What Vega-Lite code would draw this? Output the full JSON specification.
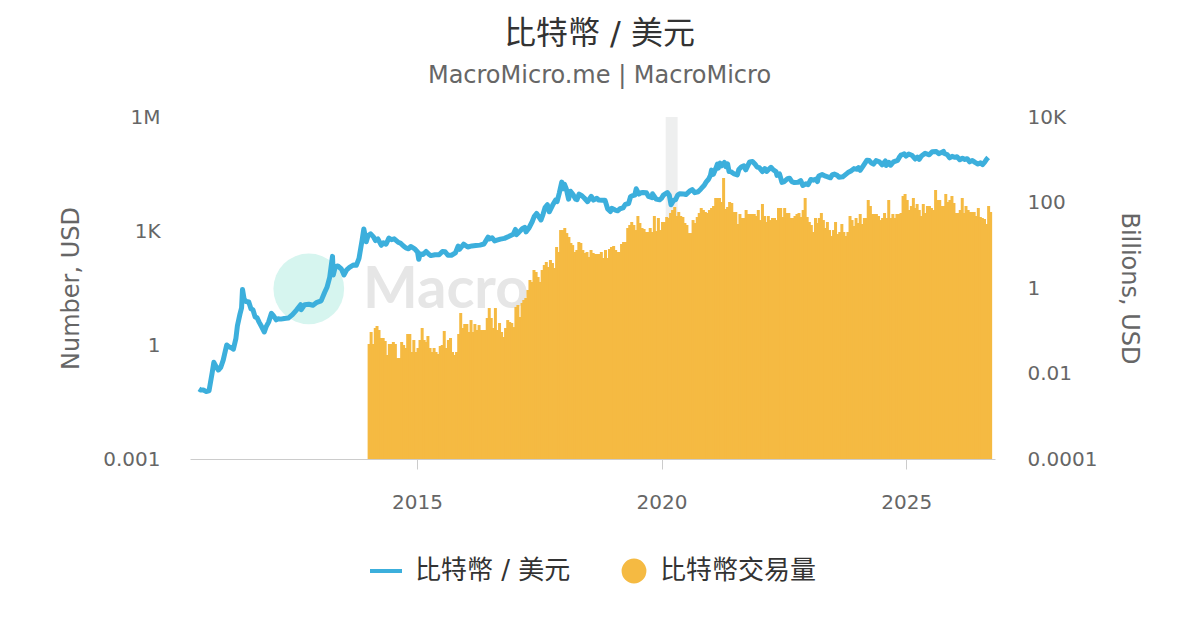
{
  "$schema": "https://vega.github.io/schema/vega-lite/v6.json",
  "width": 805,
  "height": 342,
  "autosize": {"type": "none"},
  "padding": {"left": 190, "top": 117, "right": 205, "bottom": 171},
  "title": {
    "text": "比特幣 / 美元",
    "subtitle": "MacroMicro.me | MacroMicro",
    "anchor": "middle",
    "frame": "group",
    "dx": 7,
    "offset": 18,
    "fontSize": 32,
    "fontWeight": "normal",
    "color": "#333333",
    "subtitleFontSize": 24,
    "subtitleColor": "#666666",
    "subtitlePadding": 13
  },
  "datasets": {
    "volume": [
      {"d":"2014-01-01","v":0.049},{"d":"2014-01-16","v":0.0935},{"d":"2014-02-01","v":0.049},{"d":"2014-02-16","v":0.116},{"d":"2014-03-01","v":0.129},{"d":"2014-03-16","v":0.104},{"d":"2014-04-01","v":0.0677},{"d":"2014-04-16","v":0.0677},{"d":"2014-05-01","v":0.0576},{"d":"2014-05-16","v":0.0271},{"d":"2014-06-01","v":0.049},{"d":"2014-06-16","v":0.049},{"d":"2014-07-01","v":0.0546},{"d":"2014-07-16","v":0.049},{"d":"2014-08-01","v":0.023},{"d":"2014-08-16","v":0.023},{"d":"2014-09-01","v":0.0546},{"d":"2014-09-16","v":0.0464},{"d":"2014-10-01","v":0.0395},{"d":"2014-10-16","v":0.0839},{"d":"2014-11-01","v":0.0839},{"d":"2014-11-16","v":0.0318},{"d":"2014-12-01","v":0.0608},{"d":"2014-12-16","v":0.0318},
      {"d":"2015-01-01","v":0.0395},{"d":"2015-01-16","v":0.0608},{"d":"2015-02-01","v":0.116},{"d":"2015-02-16","v":0.0608},{"d":"2015-03-01","v":0.0546},{"d":"2015-03-16","v":0.0754},{"d":"2015-04-01","v":0.0395},{"d":"2015-04-16","v":0.0318},{"d":"2015-05-01","v":0.0395},{"d":"2015-05-16","v":0.0318},{"d":"2015-06-01","v":0.0286},{"d":"2015-06-16","v":0.044},{"d":"2015-07-01","v":0.0464},{"d":"2015-07-16","v":0.0987},{"d":"2015-08-01","v":0.0395},{"d":"2015-08-16","v":0.0608},{"d":"2015-09-01","v":0.0677},{"d":"2015-09-16","v":0.0318},{"d":"2015-10-01","v":0.0271},{"d":"2015-10-16","v":0.0318},{"d":"2015-11-01","v":0.0839},{"d":"2015-11-16","v":0.26},{"d":"2015-12-01","v":0.116},{"d":"2015-12-16","v":0.144},
      {"d":"2016-01-01","v":0.144},{"d":"2016-01-16","v":0.0935},{"d":"2016-02-01","v":0.178},{"d":"2016-02-16","v":0.0935},{"d":"2016-03-01","v":0.144},{"d":"2016-03-16","v":0.104},{"d":"2016-04-01","v":0.136},{"d":"2016-04-16","v":0.104},{"d":"2016-05-01","v":0.104},{"d":"2016-05-16","v":0.104},{"d":"2016-06-01","v":0.199},{"d":"2016-06-16","v":0.34},{"d":"2016-07-01","v":0.199},{"d":"2016-07-16","v":0.116},{"d":"2016-08-01","v":0.34},{"d":"2016-08-16","v":0.104},{"d":"2016-09-01","v":0.152},{"d":"2016-09-16","v":0.0935},{"d":"2016-10-01","v":0.0714},{"d":"2016-10-16","v":0.116},{"d":"2016-11-01","v":0.178},{"d":"2016-11-16","v":0.16},{"d":"2016-12-01","v":0.152},{"d":"2016-12-16","v":0.122},
      {"d":"2017-01-01","v":0.359},{"d":"2017-01-16","v":0.4},{"d":"2017-02-01","v":0.21},{"d":"2017-02-16","v":0.446},{"d":"2017-03-01","v":0.524},{"d":"2017-03-16","v":0.583},{"d":"2017-04-01","v":0.898},{"d":"2017-04-16","v":1.54},{"d":"2017-05-01","v":1.38},{"d":"2017-05-16","v":2.64},{"d":"2017-06-01","v":2.37},{"d":"2017-06-16","v":1.81},{"d":"2017-07-01","v":1.38},{"d":"2017-07-16","v":2.64},{"d":"2017-08-01","v":3.45},{"d":"2017-08-16","v":4.06},{"d":"2017-09-01","v":3.1},{"d":"2017-09-16","v":4.52},{"d":"2017-10-01","v":3.84},{"d":"2017-10-16","v":2.94},{"d":"2017-11-01","v":9.1},{"d":"2017-11-16","v":6.95},{"d":"2017-12-01","v":22.7},{"d":"2017-12-16","v":22.7},
      {"d":"2018-01-01","v":25.3},{"d":"2018-01-16","v":19.3},{"d":"2018-02-01","v":15.6},{"d":"2018-02-16","v":11.3},{"d":"2018-03-01","v":10.1},{"d":"2018-03-16","v":6.95},{"d":"2018-04-01","v":7.74},{"d":"2018-04-16","v":11.9},{"d":"2018-05-01","v":11.3},{"d":"2018-05-16","v":7.74},{"d":"2018-06-01","v":6.59},{"d":"2018-06-16","v":6.95},{"d":"2018-07-01","v":5.31},{"d":"2018-07-16","v":7.74},{"d":"2018-08-01","v":6.59},{"d":"2018-08-16","v":6.24},{"d":"2018-09-01","v":6.24},{"d":"2018-09-16","v":6.24},{"d":"2018-10-01","v":6.95},{"d":"2018-10-16","v":5.03},{"d":"2018-11-01","v":7.74},{"d":"2018-11-16","v":5.03},{"d":"2018-12-01","v":8.17},{"d":"2018-12-16","v":9.1},
      {"d":"2019-01-01","v":9.6},{"d":"2019-01-16","v":7.74},{"d":"2019-02-01","v":6.95},{"d":"2019-02-16","v":6.95},{"d":"2019-03-01","v":10.7},{"d":"2019-03-16","v":11.9},{"d":"2019-04-01","v":11.9},{"d":"2019-04-16","v":25.3},{"d":"2019-05-01","v":29.8},{"d":"2019-05-16","v":35},{"d":"2019-06-01","v":29.8},{"d":"2019-06-16","v":22.7},{"d":"2019-07-01","v":48.3},{"d":"2019-07-16","v":33.2},{"d":"2019-08-01","v":25.3},{"d":"2019-08-16","v":24},{"d":"2019-09-01","v":20.4},{"d":"2019-09-16","v":20.4},{"d":"2019-10-01","v":25.3},{"d":"2019-10-16","v":20.4},{"d":"2019-11-01","v":48.3},{"d":"2019-11-16","v":21.5},{"d":"2019-12-01","v":43.4},{"d":"2019-12-16","v":22.7},
      {"d":"2020-01-01","v":35},{"d":"2020-01-16","v":35},{"d":"2020-02-01","v":45.8},{"d":"2020-02-16","v":43.4},{"d":"2020-03-01","v":56.8},{"d":"2020-03-16","v":66.8},{"d":"2020-04-01","v":78.5},{"d":"2020-04-16","v":48.3},{"d":"2020-05-01","v":59.9},{"d":"2020-05-16","v":48.3},{"d":"2020-06-01","v":45.8},{"d":"2020-06-16","v":33.2},{"d":"2020-07-01","v":29.8},{"d":"2020-07-16","v":19.3},{"d":"2020-08-01","v":19.3},{"d":"2020-08-16","v":38.9},{"d":"2020-09-01","v":33.2},{"d":"2020-09-16","v":45.8},{"d":"2020-10-01","v":56.8},{"d":"2020-10-16","v":74.3},{"d":"2020-11-01","v":66.8},{"d":"2020-11-16","v":59.9},{"d":"2020-12-01","v":56.8},{"d":"2020-12-16","v":66.8},
      {"d":"2021-01-01","v":74.3},{"d":"2021-01-16","v":82.8},{"d":"2021-02-01","v":127},{"d":"2021-02-16","v":127},{"d":"2021-03-01","v":127},{"d":"2021-03-16","v":103},{"d":"2021-04-01","v":374},{"d":"2021-04-16","v":70.5},{"d":"2021-05-01","v":78.5},{"d":"2021-05-16","v":103},{"d":"2021-06-01","v":97.3},{"d":"2021-06-16","v":59.9},{"d":"2021-07-01","v":59.9},{"d":"2021-07-16","v":31.4},{"d":"2021-08-01","v":53.8},{"d":"2021-08-16","v":43.4},{"d":"2021-09-01","v":43.4},{"d":"2021-09-16","v":66.8},{"d":"2021-10-01","v":53.8},{"d":"2021-10-16","v":53.8},{"d":"2021-11-01","v":53.8},{"d":"2021-11-16","v":53.8},{"d":"2021-12-01","v":48.3},{"d":"2021-12-16","v":66.8},
      {"d":"2022-01-01","v":38.9},{"d":"2022-01-16","v":92.2},{"d":"2022-02-01","v":48.3},{"d":"2022-02-16","v":35},{"d":"2022-03-01","v":48.3},{"d":"2022-03-16","v":38.9},{"d":"2022-04-01","v":43.4},{"d":"2022-04-16","v":43.4},{"d":"2022-05-01","v":38.9},{"d":"2022-05-16","v":74.3},{"d":"2022-06-01","v":74.3},{"d":"2022-06-16","v":45.8},{"d":"2022-07-01","v":74.3},{"d":"2022-07-16","v":56.8},{"d":"2022-08-01","v":56.8},{"d":"2022-08-16","v":43.4},{"d":"2022-09-01","v":43.4},{"d":"2022-09-16","v":48.3},{"d":"2022-10-01","v":53.8},{"d":"2022-10-16","v":56.8},{"d":"2022-11-01","v":45.8},{"d":"2022-11-16","v":66.8},{"d":"2022-12-01","v":127},{"d":"2022-12-16","v":45.8},
      {"d":"2023-01-01","v":35},{"d":"2023-01-16","v":29.8},{"d":"2023-02-01","v":20.4},{"d":"2023-02-16","v":43.4},{"d":"2023-03-01","v":33.2},{"d":"2023-03-16","v":43.4},{"d":"2023-04-01","v":56.8},{"d":"2023-04-16","v":38.9},{"d":"2023-05-01","v":25.3},{"d":"2023-05-16","v":35},{"d":"2023-06-01","v":22.7},{"d":"2023-06-16","v":16.5},{"d":"2023-07-01","v":22.7},{"d":"2023-07-16","v":35},{"d":"2023-08-01","v":18.3},{"d":"2023-08-16","v":20.4},{"d":"2023-09-01","v":31.4},{"d":"2023-09-16","v":20.4},{"d":"2023-10-01","v":16.5},{"d":"2023-10-16","v":20.4},{"d":"2023-11-01","v":48.3},{"d":"2023-11-16","v":38.9},{"d":"2023-12-01","v":28.2},{"d":"2023-12-16","v":43.4},
      {"d":"2024-01-01","v":33.2},{"d":"2024-01-16","v":53.8},{"d":"2024-02-01","v":31.4},{"d":"2024-02-16","v":43.4},{"d":"2024-03-01","v":43.4},{"d":"2024-03-16","v":114},{"d":"2024-04-01","v":82.8},{"d":"2024-04-16","v":53.8},{"d":"2024-05-01","v":53.8},{"d":"2024-05-16","v":53.8},{"d":"2024-06-01","v":48.3},{"d":"2024-06-16","v":38.9},{"d":"2024-07-01","v":43.4},{"d":"2024-07-16","v":56.8},{"d":"2024-08-01","v":43.4},{"d":"2024-08-16","v":114},{"d":"2024-09-01","v":43.4},{"d":"2024-09-16","v":53.8},{"d":"2024-10-01","v":43.4},{"d":"2024-10-16","v":53.8},{"d":"2024-11-01","v":53.8},{"d":"2024-11-16","v":56.8},{"d":"2024-12-01","v":142},{"d":"2024-12-16","v":158},
      {"d":"2025-01-01","v":114},{"d":"2025-01-16","v":66.8},{"d":"2025-02-01","v":82.8},{"d":"2025-02-16","v":127},{"d":"2025-03-01","v":74.3},{"d":"2025-03-16","v":92.2},{"d":"2025-04-01","v":66.8},{"d":"2025-04-16","v":48.3},{"d":"2025-05-01","v":92.2},{"d":"2025-05-16","v":56.8},{"d":"2025-06-01","v":82.8},{"d":"2025-06-16","v":82.8},{"d":"2025-07-01","v":74.3},{"d":"2025-07-16","v":66.8},{"d":"2025-08-01","v":196},{"d":"2025-08-16","v":114},{"d":"2025-09-01","v":114},{"d":"2025-09-16","v":82.8},{"d":"2025-10-01","v":82.8},{"d":"2025-10-16","v":158},{"d":"2025-11-01","v":103},{"d":"2025-11-16","v":114},{"d":"2025-12-01","v":142},{"d":"2025-12-16","v":97.3},
      {"d":"2026-01-01","v":56.8},{"d":"2026-01-16","v":56.8},{"d":"2026-02-01","v":66.8},{"d":"2026-02-16","v":127},{"d":"2026-03-01","v":56.8},{"d":"2026-03-16","v":82.8},{"d":"2026-04-01","v":66.8},{"d":"2026-04-16","v":59.9},{"d":"2026-05-01","v":59.9},{"d":"2026-05-16","v":59.9},{"d":"2026-06-01","v":48.3},{"d":"2026-06-16","v":74.3},{"d":"2026-07-01","v":45.8},{"d":"2026-07-16","v":43.4},{"d":"2026-08-01","v":41.1},{"d":"2026-08-16","v":31.4},{"d":"2026-09-01","v":82.8},{"d":"2026-09-16","v":59.9}
    ],
    "price": [
      {"d":"2010-07-18","p":0.07},{"d":"2010-08-01","p":0.065},{"d":"2010-08-20","p":0.065},{"d":"2010-09-10","p":0.06},{"d":"2010-10-01","p":0.062},{"d":"2010-10-25","p":0.19},{"d":"2010-11-06","p":0.35},{"d":"2010-11-20","p":0.28},{"d":"2010-12-10","p":0.22},{"d":"2010-12-28","p":0.26},
      {"d":"2011-01-15","p":0.4},{"d":"2011-02-10","p":1.0},{"d":"2011-02-25","p":0.9},{"d":"2011-03-15","p":0.85},{"d":"2011-04-01","p":0.78},{"d":"2011-04-20","p":1.5},{"d":"2011-05-01","p":3.2},{"d":"2011-05-20","p":6.5},{"d":"2011-06-01","p":9.5},{"d":"2011-06-08","p":29},{"d":"2011-06-20","p":16},{"d":"2011-07-05","p":14},{"d":"2011-07-25","p":13.5},{"d":"2011-08-10","p":9},{"d":"2011-08-25","p":8.5},{"d":"2011-09-10","p":5.5},{"d":"2011-09-25","p":5.2},{"d":"2011-10-10","p":4.0},{"d":"2011-10-25","p":3.2},{"d":"2011-11-18","p":2.2},{"d":"2011-12-01","p":3.0},{"d":"2011-12-20","p":4.0},
      {"d":"2012-01-10","p":6.8},{"d":"2012-01-25","p":5.9},{"d":"2012-02-15","p":4.6},{"d":"2012-03-01","p":4.9},{"d":"2012-03-20","p":4.8},{"d":"2012-04-15","p":5.0},{"d":"2012-05-15","p":5.1},{"d":"2012-06-15","p":6.3},{"d":"2012-07-15","p":8.3},{"d":"2012-08-15","p":11.5},{"d":"2012-08-20","p":8.5},{"d":"2012-09-15","p":11.5},{"d":"2012-10-15","p":11.8},{"d":"2012-11-15","p":11.1},{"d":"2012-12-15","p":13.3},
      {"d":"2013-01-15","p":14.5},{"d":"2013-02-10","p":24},{"d":"2013-02-28","p":33},{"d":"2013-03-20","p":60},{"d":"2013-04-10","p":215},{"d":"2013-04-16","p":70},{"d":"2013-05-01","p":115},{"d":"2013-05-20","p":120},{"d":"2013-06-15","p":100},{"d":"2013-07-05","p":70},{"d":"2013-07-25","p":95},{"d":"2013-08-15","p":110},{"d":"2013-09-15","p":128},{"d":"2013-10-05","p":125},{"d":"2013-10-25","p":190},{"d":"2013-11-18","p":600},{"d":"2013-11-30","p":1130},{"d":"2013-12-18","p":520},{"d":"2013-12-31","p":750},
      {"d":"2014-01-20","p":840},{"d":"2014-02-10","p":700},{"d":"2014-02-25","p":560},{"d":"2014-03-15","p":620},{"d":"2014-04-10","p":420},{"d":"2014-04-25","p":490},{"d":"2014-05-15","p":450},{"d":"2014-06-05","p":650},{"d":"2014-06-25","p":590},{"d":"2014-07-15","p":620},{"d":"2014-08-15","p":500},{"d":"2014-08-30","p":480},{"d":"2014-09-20","p":410},{"d":"2014-10-10","p":360},{"d":"2014-10-30","p":340},{"d":"2014-11-15","p":390},{"d":"2014-12-15","p":340},
      {"d":"2015-01-05","p":280},{"d":"2015-01-14","p":180},{"d":"2015-01-25","p":250},{"d":"2015-02-15","p":240},{"d":"2015-03-10","p":290},{"d":"2015-03-31","p":245},{"d":"2015-04-15","p":225},{"d":"2015-05-15","p":237},{"d":"2015-06-15","p":238},{"d":"2015-07-10","p":290},{"d":"2015-07-30","p":285},{"d":"2015-08-20","p":230},{"d":"2015-09-15","p":230},{"d":"2015-10-15","p":265},{"d":"2015-11-04","p":400},{"d":"2015-11-15","p":330},{"d":"2015-12-15","p":450},
      {"d":"2016-01-15","p":380},{"d":"2016-02-15","p":405},{"d":"2016-03-15","p":415},{"d":"2016-04-15","p":425},{"d":"2016-05-15","p":455},{"d":"2016-06-15","p":690},{"d":"2016-06-25","p":620},{"d":"2016-07-15","p":665},{"d":"2016-08-03","p":550},{"d":"2016-08-20","p":575},{"d":"2016-09-15","p":610},{"d":"2016-10-15","p":640},{"d":"2016-11-15","p":715},{"d":"2016-12-20","p":820},
      {"d":"2017-01-05","p":1100},{"d":"2017-01-12","p":800},{"d":"2017-01-30","p":920},{"d":"2017-02-25","p":1150},{"d":"2017-03-15","p":1250},{"d":"2017-03-25","p":950},{"d":"2017-04-15","p":1180},{"d":"2017-05-10","p":1750},{"d":"2017-05-25","p":2400},{"d":"2017-06-12","p":2900},{"d":"2017-07-15","p":1950},{"d":"2017-07-30","p":2750},{"d":"2017-08-15","p":4200},{"d":"2017-09-01","p":4900},{"d":"2017-09-15","p":3200},{"d":"2017-10-10","p":4800},{"d":"2017-10-31","p":6450},{"d":"2017-11-12","p":5950},{"d":"2017-11-28","p":9800},{"d":"2017-12-17","p":19300},{"d":"2017-12-30","p":12900},
      {"d":"2018-01-06","p":17100},{"d":"2018-01-20","p":12800},{"d":"2018-02-06","p":6900},{"d":"2018-02-20","p":11100},{"d":"2018-03-10","p":9200},{"d":"2018-03-31","p":6900},{"d":"2018-04-10","p":6700},{"d":"2018-04-25","p":9400},{"d":"2018-05-15","p":8500},{"d":"2018-06-01","p":7500},{"d":"2018-06-28","p":5900},{"d":"2018-07-25","p":8200},{"d":"2018-08-10","p":6500},{"d":"2018-09-05","p":7300},{"d":"2018-09-20","p":6500},{"d":"2018-10-15","p":6400},{"d":"2018-11-05","p":6400},{"d":"2018-11-25","p":3800},{"d":"2018-12-15","p":3250},{"d":"2018-12-25","p":3950},
      {"d":"2019-01-20","p":3550},{"d":"2019-02-07","p":3400},{"d":"2019-02-25","p":3850},{"d":"2019-03-20","p":4050},{"d":"2019-04-05","p":5000},{"d":"2019-04-30","p":5300},{"d":"2019-05-15","p":8100},{"d":"2019-05-31","p":8500},{"d":"2019-06-15","p":8800},{"d":"2019-06-26","p":12900},{"d":"2019-07-16","p":9400},{"d":"2019-07-31","p":10100},{"d":"2019-08-15","p":10300},{"d":"2019-09-10","p":10100},{"d":"2019-09-26","p":8100},{"d":"2019-10-23","p":7500},{"d":"2019-10-26","p":9500},{"d":"2019-11-22","p":6900},{"d":"2019-12-18","p":6600},{"d":"2019-12-31","p":7200},
      {"d":"2020-01-15","p":8800},{"d":"2020-02-13","p":10300},{"d":"2020-02-28","p":8700},{"d":"2020-03-12","p":4900},{"d":"2020-03-31","p":6400},{"d":"2020-04-15","p":6700},{"d":"2020-04-30","p":8700},{"d":"2020-05-15","p":9600},{"d":"2020-06-15","p":9400},{"d":"2020-07-01","p":9100},{"d":"2020-07-31","p":11300},{"d":"2020-08-17","p":12300},{"d":"2020-09-05","p":10200},{"d":"2020-09-30","p":10800},{"d":"2020-10-21","p":12800},{"d":"2020-11-15","p":16000},{"d":"2020-11-30","p":19600},{"d":"2020-12-17","p":23000},{"d":"2020-12-31","p":29000},
      {"d":"2021-01-08","p":40000},{"d":"2021-01-22","p":31000},{"d":"2021-02-10","p":44800},{"d":"2021-02-21","p":57500},{"d":"2021-02-28","p":45200},{"d":"2021-03-13","p":61000},{"d":"2021-03-25","p":52000},{"d":"2021-04-14","p":63500},{"d":"2021-04-25","p":49000},{"d":"2021-05-08","p":58500},{"d":"2021-05-19","p":37000},{"d":"2021-06-01","p":36500},{"d":"2021-06-22","p":32500},{"d":"2021-07-20","p":29800},{"d":"2021-07-31","p":41500},{"d":"2021-08-20","p":49000},{"d":"2021-09-06","p":51700},{"d":"2021-09-21","p":40600},{"d":"2021-10-20","p":66000},{"d":"2021-11-10","p":67500},{"d":"2021-11-30","p":57000},{"d":"2021-12-15","p":48000},{"d":"2021-12-31","p":46300},
      {"d":"2022-01-24","p":36500},{"d":"2022-02-10","p":44000},{"d":"2022-02-24","p":37000},{"d":"2022-03-28","p":47500},{"d":"2022-04-15","p":40500},{"d":"2022-05-05","p":36500},{"d":"2022-05-12","p":29000},{"d":"2022-05-31","p":31800},{"d":"2022-06-18","p":19000},{"d":"2022-07-05","p":20000},{"d":"2022-07-30","p":23800},{"d":"2022-08-14","p":24500},{"d":"2022-08-31","p":20000},{"d":"2022-09-20","p":18800},{"d":"2022-10-15","p":19100},{"d":"2022-11-05","p":21300},{"d":"2022-11-21","p":15800},{"d":"2022-12-15","p":17400},{"d":"2022-12-31","p":16500},
      {"d":"2023-01-20","p":22700},{"d":"2023-02-10","p":21800},{"d":"2023-02-25","p":23200},{"d":"2023-03-10","p":20000},{"d":"2023-03-20","p":28000},{"d":"2023-04-14","p":30500},{"d":"2023-05-10","p":27600},{"d":"2023-06-15","p":25100},{"d":"2023-06-30","p":30500},{"d":"2023-07-14","p":31400},{"d":"2023-08-05","p":29100},{"d":"2023-08-18","p":26000},{"d":"2023-09-15","p":26600},{"d":"2023-10-24","p":34500},{"d":"2023-11-15","p":37800},{"d":"2023-12-08","p":43900},{"d":"2023-12-31","p":42300},
      {"d":"2024-01-11","p":46800},{"d":"2024-01-23","p":39500},{"d":"2024-02-15","p":52000},{"d":"2024-03-14","p":73100},{"d":"2024-03-31","p":71300},{"d":"2024-04-17","p":61000},{"d":"2024-05-01","p":57500},{"d":"2024-05-21","p":71000},{"d":"2024-06-15","p":66100},{"d":"2024-07-05","p":55000},{"d":"2024-07-29","p":69500},{"d":"2024-08-05","p":53000},{"d":"2024-08-25","p":64000},{"d":"2024-09-06","p":53800},{"d":"2024-09-28","p":65800},{"d":"2024-10-29","p":72300},{"d":"2024-11-13","p":90000},{"d":"2024-11-22","p":99000},{"d":"2024-12-05","p":103000},{"d":"2024-12-17","p":107000},{"d":"2024-12-31","p":93400},
      {"d":"2025-01-20","p":106000},{"d":"2025-02-15","p":96500},{"d":"2025-03-10","p":78500},{"d":"2025-03-25","p":87500},{"d":"2025-04-08","p":76500},{"d":"2025-04-25","p":94500},{"d":"2025-05-22","p":111000},{"d":"2025-06-22","p":101000},{"d":"2025-07-14","p":121000},{"d":"2025-08-14","p":123000},{"d":"2025-09-01","p":108000},{"d":"2025-09-20","p":116000},{"d":"2025-10-06","p":125000},{"d":"2025-10-10","p":111000},{"d":"2025-11-05","p":101000},{"d":"2025-11-21","p":84000},{"d":"2025-12-10","p":92000},{"d":"2025-12-31","p":87000},
      {"d":"2026-01-15","p":90000},{"d":"2026-02-05","p":75000},{"d":"2026-02-25","p":82000},{"d":"2026-03-15","p":76000},{"d":"2026-04-01","p":80000},{"d":"2026-04-20","p":66000},{"d":"2026-05-10","p":72000},{"d":"2026-05-30","p":64000},{"d":"2026-06-20","p":58000},{"d":"2026-07-10","p":62000},{"d":"2026-07-25","p":56000},{"d":"2026-08-10","p":65000},{"d":"2026-08-25","p":78000},{"d":"2026-09-05","p":86000}
    ]
  },
  "layer": [
    {
      "data": {"values": [{"start": "2020-02-01", "end": "2020-04-30"}]},
      "mark": {"type": "rect", "color": "#eeefef"},
      "encoding": {
        "x": {"field": "start", "type": "temporal", "title": null, "scale": {"type": "utc", "nice": false, "padding": 0, "domain": [{"year": 2010, "month": 5, "date": 12, "utc": true}, {"year": 2026, "month": 10, "date": 26, "utc": true}]}},
        "x2": {"field": "end"}
      }
    },
    {
      "data": {"values": [{}]},
      "mark": {"type": "point", "filled": true, "color": "#d6f5ef", "opacity": 1, "size": 5000},
      "encoding": {
        "x": {"datum": {"year": 2012, "month": 10, "date": 15, "utc": true}, "type": "temporal", "title": null},
        "y": {"datum": 30, "type": "quantitative", "scale": {"type": "log", "domain": [0.001, 1000000]}, "axis": null}
      }
    },
    {
      "data": {"values": [{}]},
      "mark": {"type": "text", "text": "Macro", "align": "left", "baseline": "alphabetic", "font": "Lato", "fontWeight": "bold", "fontSize": 58, "color": "#e6e6e6"},
      "encoding": {
        "x": {"datum": {"year": 2013, "month": 11, "date": 23, "utc": true}, "type": "temporal", "title": null},
        "y": {"datum": 9.4, "type": "quantitative", "scale": {"type": "log", "domain": [0.001, 1000000]}, "axis": null}
      }
    },
    {
      "data": {"name": "volume"},
      "mark": {"type": "bar", "width": 3, "xOffset": 1},
      "encoding": {
        "x": {"field": "d", "type": "temporal", "title": null},
        "y": {
          "field": "v", "type": "quantitative",
          "scale": {"type": "log", "domain": [0.0001, 10000]},
          "axis": {
            "orient": "right", "title": "Billions, USD", "values": [0.0001, 0.01, 1, 100, 10000],
            "labelExpr": "datum.value >= 10000 ? '10K' : datum.value >= 100 ? '100' : datum.value >= 1 ? '1' : datum.value >= 0.01 ? '0.01' : '0.0001'",
            "domain": false, "ticks": false, "grid": false, "labelFlush": false, "labelOverlap": false,
            "labelPadding": 32, "titlePadding": 20
          }
        },
        "y2": {"datum": 0.0001},
        "fill": {
          "datum": "比特幣交易量", "type": "nominal",
          "scale": {"range": ["#f5ba42"]},
          "legend": {"orient": "none", "legendX": 431, "legendY": 441, "title": null, "symbolType": "circle", "symbolSize": 616, "symbolStrokeWidth": 0, "labelFontSize": 26, "labelColor": "#333333", "labelOffset": 13}
        }
      }
    },
    {
      "data": {"name": "price"},
      "mark": {"type": "line", "strokeWidth": 5, "strokeJoin": "round"},
      "encoding": {
        "x": {
          "field": "d", "type": "temporal", "title": null,
          "axis": {
            "values": [{"year": 2015, "utc": true}, {"year": 2020, "utc": true}, {"year": 2025, "utc": true}],
            "format": "%Y", "grid": false, "domainColor": "#cccccc", "tickColor": "#cccccc", "tickSize": 10,
            "labelPadding": 23, "labelFlush": false
          }
        },
        "y": {
          "field": "p", "type": "quantitative",
          "scale": {"type": "log", "domain": [0.001, 1000000]},
          "axis": {
            "orient": "left", "title": "Number, USD", "values": [0.001, 1, 1000, 1000000],
            "labelExpr": "datum.value >= 1000000 ? '1M' : datum.value >= 1000 ? '1K' : datum.value >= 1 ? '1' : '0.001'",
            "domain": false, "ticks": false, "grid": false, "labelFlush": false, "labelOverlap": false,
            "labelPadding": 30, "titlePadding": 19
          }
        },
        "stroke": {
          "datum": "比特幣 / 美元", "type": "nominal",
          "scale": {"range": ["#3cafdc"]},
          "legend": {"orient": "none", "legendX": 178, "legendY": 436, "title": null, "symbolType": "stroke", "symbolSize": 1024, "symbolStrokeWidth": 4, "labelFontSize": 26, "labelColor": "#333333", "labelOffset": 11}
        }
      }
    }
  ],
  "resolve": {"scale": {"y": "independent"}},
  "config": {
    "font": "DejaVu Sans, Noto Sans CJK TC, sans-serif",
    "view": {"stroke": null},
    "axis": {
      "labelFont": "DejaVu Sans", "labelFontSize": 20, "labelColor": "#666666",
      "titleFont": "DejaVu Sans", "titleFontSize": 24, "titleColor": "#666666", "titleFontWeight": "normal"
    },
    "legend": {"labelFont": "DejaVu Sans, Noto Sans CJK TC, sans-serif"},
    "title": {"font": "DejaVu Sans, Noto Sans CJK TC, sans-serif", "subtitleFont": "DejaVu Sans"}
  }
}
